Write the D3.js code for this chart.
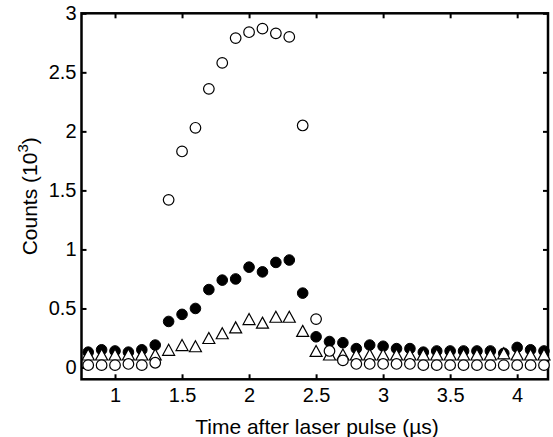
<!DOCTYPE html>
<html>
<head>
<meta charset="utf-8">
<script src="https://cdn.jsdelivr.net/npm/d3@7"></script>
<style>
  body { margin: 0; background: #fff; }
  svg { display: block; font-family: "Liberation Sans", Arial, sans-serif; }
</style>
</head>
<body>
<script>
// time after laser pulse (us)
const times = [0.8,0.9,1.0,1.1,1.2,1.3,1.4,1.5,1.6,1.7,1.8,1.9,2.0,2.1,2.2,2.3,2.4,2.5,
               2.6,2.7,2.8,2.9,3.0,3.1,3.2,3.3,3.4,3.5,3.6,3.7,3.8,3.9,4.0,4.1,4.2];
// counts (10^3), open circles
const openCircles = [0.02,0.02,0.02,0.03,0.02,0.04,1.42,1.83,2.03,2.36,2.58,2.79,2.84,2.87,2.83,2.80,2.05,0.41,
                     0.14,0.06,0.03,0.03,0.03,0.03,0.03,0.02,0.02,0.02,0.02,0.02,0.02,0.02,0.02,0.02,0.02];
// filled circles
const filledCircles = [0.13,0.15,0.14,0.13,0.15,0.19,0.39,0.45,0.50,0.66,0.74,0.75,0.85,0.81,0.89,0.91,0.63,0.26,
                       0.22,0.21,0.16,0.19,0.18,0.16,0.16,0.13,0.14,0.14,0.14,0.14,0.14,0.12,0.17,0.15,0.14];
// triangles
const triangles = [0.11,0.11,0.11,0.11,0.11,0.11,0.15,0.19,0.18,0.25,0.29,0.34,0.41,0.38,0.43,0.43,0.31,0.14,
                   0.11,0.11,0.11,0.11,0.11,0.11,0.11,0.11,0.11,0.11,0.11,0.11,0.11,0.12,0.11,0.11,0.11];

const xTicks = [1, 1.5, 2, 2.5, 3, 3.5, 4];
const yTicks = [0, 0.5, 1, 1.5, 2, 2.5, 3];

const W = 553, H = 437;
const pLeft = 81.5, pRight = 548, pTop = 13.3, pBottom = 379.3;

const svg = d3.select('body').append('svg')
              .attr('width', W)
              .attr('height', H);

const x = d3.scaleLinear().domain([0.75, 4.23]).range([pLeft, pRight]);
const y = d3.scaleLinear().domain([-0.1, 3]).range([pBottom, pTop]);

const fmt = d => String(d);

// ticks on all four sides, pointing in
function styleAxis(g) {
  g.select('.domain').remove();
  g.selectAll('.tick line').attr('stroke', '#000').attr('stroke-width', 2);
  g.selectAll('.tick text').attr('fill', '#000').attr('font-size', '20px');
}

svg.append('g')
   .attr('transform', 'translate(0,' + pBottom + ')')
   .call(d3.axisBottom(x).tickValues(xTicks).tickFormat(fmt).tickSizeInner(-5).tickSizeOuter(0).tickPadding(9))
   .call(styleAxis);

svg.append('g')
   .attr('transform', 'translate(0,' + pTop + ')')
   .call(d3.axisTop(x).tickValues(xTicks).tickFormat('').tickSizeInner(-5).tickSizeOuter(0))
   .call(styleAxis);

svg.append('g')
   .attr('transform', 'translate(' + pLeft + ',0)')
   .call(d3.axisLeft(y).tickValues(yTicks).tickFormat(fmt).tickSizeInner(-5).tickSizeOuter(0).tickPadding(5))
   .call(styleAxis);

svg.append('g')
   .attr('transform', 'translate(' + pRight + ',0)')
   .call(d3.axisRight(y).tickValues(yTicks).tickFormat('').tickSizeInner(-5).tickSizeOuter(0))
   .call(styleAxis);

// box
svg.append('rect')
   .attr('x', pLeft)
   .attr('y', pTop)
   .attr('width', pRight - pLeft)
   .attr('height', pBottom - pTop)
   .attr('fill', 'none')
   .attr('stroke', '#000')
   .attr('stroke-width', 2.5);

const r = 5.3;

// filled circles first, triangles and open circles drawn over them
svg.append('g').selectAll('circle')
   .data(times)
   .enter()
   .append('circle')
   .attr('cx', d => x(d))
   .attr('cy', (d, i) => y(filledCircles[i]))
   .attr('r', r)
   .attr('fill', '#000')
   .attr('stroke', '#000')
   .attr('stroke-width', 1);

const tw = 12, th = 11;
svg.append('g').selectAll('path')
   .data(times)
   .enter()
   .append('path')
   .attr('d', `M0,${-th/2}L${tw/2},${th/2}L${-tw/2},${th/2}Z`)
   .attr('transform', (d, i) => 'translate(' + x(d) + ',' + y(triangles[i]) + ')')
   .attr('fill', '#fff')
   .attr('stroke', '#000')
   .attr('stroke-width', 1.2);

svg.append('g').selectAll('circle')
   .data(times)
   .enter()
   .append('circle')
   .attr('cx', d => x(d))
   .attr('cy', (d, i) => y(openCircles[i]))
   .attr('r', r)
   .attr('fill', '#fff')
   .attr('stroke', '#000')
   .attr('stroke-width', 1.2);

// axis titles
svg.append('text')
   .attr('x', 317)
   .attr('y', 434)
   .attr('text-anchor', 'middle')
   .attr('font-size', '21px')
   .text('Time after laser pulse (\u00b5s)');

const yTitle = svg.append('text')
   .attr('transform', 'translate(36.5,' + ((pTop + pBottom) / 2) + ') rotate(-90)')
   .attr('text-anchor', 'middle')
   .attr('font-size', '21px');
yTitle.append('tspan').text('Counts (10');
yTitle.append('tspan').attr('dy', -9).attr('font-size', '15px').text('3');
yTitle.append('tspan').attr('dy', 9).text(')');
</script>
</body>
</html>
